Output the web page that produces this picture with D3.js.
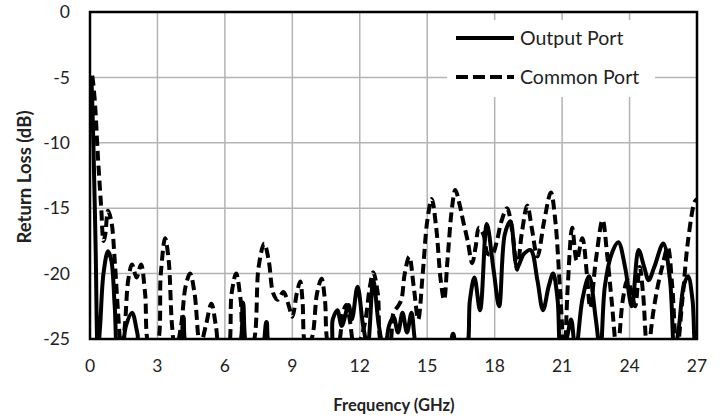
<!DOCTYPE html>
<html>
<head>
<meta charset="utf-8">
<script src="https://cdn.jsdelivr.net/npm/d3@7"></script>
<style>
  body { margin: 0; background: #fff; }
  text { font-family: Lato, "Open Sans", sans-serif; }
</style>
</head>
<body>
<svg id="chart"></svg>
<script>
// Return loss vs frequency
const xTicks = [0, 3, 6, 9, 12, 15, 18, 21, 24, 27];
const yTicks = [0, -5, -10, -15, -20, -25];

const outputFreq = [0.0, 0.05, 0.15, 0.25, 0.35, 0.45, 0.6, 0.8, 0.95, 1.1, 1.25, 1.45, 1.6, 1.87, 2.1, 2.3,
  3.9, 4.15, 4.4, 6.5, 6.8, 7.05, 7.6, 7.85, 8.1,
  10.6, 10.8, 11.0, 11.2, 11.5, 11.65, 11.9, 12.15, 12.35, 12.6, 12.85, 13.1, 13.3, 13.5, 13.7, 13.9, 14.1, 14.3, 14.5, 14.7,
  15.9, 16.15, 16.35, 16.7, 16.9, 17.1, 17.35, 17.65, 17.95, 18.2, 18.45, 18.7, 19.0, 19.3, 19.6, 19.9, 20.15, 20.4, 20.6, 20.8, 20.95,
  21.2, 21.4, 21.6, 21.9, 22.2, 22.5, 22.7, 22.9, 23.2, 23.5, 23.8, 24.1, 24.4, 24.65, 24.85, 25.1, 25.5, 25.8, 26.0, 26.2, 26.4, 26.6, 26.8, 26.95, 27.0];
const outputDb = [-8, -5, -10, -18, -26, -24, -20, -18.3, -19, -22.5, -26, -25.5, -24, -23, -24.5, -26,
  -26, -23.3, -26, -26, -22.2, -26, -26, -23.7, -26,
  -26, -23.5, -22.8, -24, -22.4, -23.5, -21, -24, -25.5, -20.5, -24, -26, -24, -23.3, -24.5, -23, -24.5, -23, -25.5, -26,
  -26, -24.6, -26, -26, -22, -20.3, -22.8, -16.2, -19.7, -22.5, -17, -16, -19.5, -18.5, -18.2, -20.5, -22.8, -21, -20, -22, -26,
  -25, -23.5, -26, -22, -20.2, -23.5, -26, -21, -18.5, -17.6, -19.5, -22.5, -18.2, -19.5, -20.5, -19.5, -17.7, -20.5, -26, -24, -21, -20.2, -22, -26, -26];

const commonFreq = [0.0, 0.08, 0.2, 0.35, 0.5, 0.6, 0.68, 0.8, 0.95, 1.1, 1.25, 1.4, 1.55, 1.7, 1.87, 2.07, 2.27, 2.45, 2.65, 2.95,
  3.15, 3.34, 3.5, 3.65, 3.8, 4.05, 4.25, 4.45, 4.65, 4.9, 5.15, 5.4, 5.6, 5.8, 6.1, 6.3, 6.5, 6.7, 6.9, 7.2, 7.5, 7.75, 7.95,
  8.15, 8.35, 8.6, 8.85, 9.0, 9.2, 9.35, 9.45, 9.6, 9.85, 10.1, 10.3, 10.45, 10.65, 11.0, 11.25, 11.4, 11.55, 11.8, 12.2, 12.45,
  12.6, 12.8, 13.0, 13.3, 13.5, 13.7, 13.85, 14.0, 14.2, 14.4, 14.6, 14.8, 15.0, 15.2, 15.4, 15.6, 15.75, 15.9, 16.1, 16.25,
  16.45, 16.6, 16.8, 17.0, 17.15, 17.3, 17.5, 17.7, 17.9, 18.1, 18.3, 18.55, 18.8, 19.0, 19.2, 19.45, 19.65, 19.9, 20.2, 20.5,
  20.7, 20.9, 21.1, 21.25, 21.45, 21.65, 21.9, 22.1, 22.25, 22.5, 22.8, 23.0, 23.2, 23.45, 23.7, 23.9, 24.1, 24.25, 24.45,
  24.6, 24.8, 25.05, 25.25, 25.45, 25.7, 25.9, 26.1, 26.35, 26.6, 26.9, 27.0];
const commonDb = [-7, -4.8, -6.5, -11, -15, -17.5, -17, -15.2, -16, -19, -23, -26, -24, -20.5, -19.3, -20.3, -19.3, -21.5, -25.5, -25.5,
  -20, -17.3, -19, -24, -26, -24, -21, -20, -21.5, -25.5, -24, -22.3, -24, -26, -26, -21.5, -20, -22, -25.5, -25.5, -19.5, -17.7, -19,
  -21.5, -22, -21.4, -22.5, -23.3, -21.5, -20.6, -22, -25.5, -25, -21.5, -20.4, -22, -25.5, -25.5, -23, -22.4, -23.5, -26, -24, -21,
  -19.9, -21.5, -25.5, -25.5, -23, -22.5, -22, -20, -18.7, -21, -23.5, -20, -16, -14.3, -16.5, -20.5, -22, -19, -15, -13.6,
  -14.8, -16, -17.5, -19.2, -18, -16.5, -17, -18.5, -18.5, -17.5, -16, -15, -17, -19.7, -17, -14.8, -16.5, -18.7, -16, -13.8,
  -16, -21, -26, -21, -16.5, -19, -17.3, -20, -22.6, -19, -15.9, -18.5, -22, -26, -22, -20.5, -21.5, -22.5, -19.5,
  -21.5, -26, -23, -21, -19.5, -18, -21, -26, -22, -17.5, -14.5, -14.3];

const seriesNames = ['Output Port', 'Common Port'];

const width = 726, height = 419;
const margin = { top: 12, right: 29, bottom: 80, left: 90 };

const svg = d3.select('#chart')
  .attr('width', width)
  .attr('height', height);

const x = d3.scaleLinear().domain([0, 27]).range([margin.left, width - margin.right]);
const y = d3.scaleLinear().domain([-25, 0]).range([height - margin.bottom, margin.top]);

// grid
svg.append('g')
  .selectAll('line.v')
  .data(xTicks.slice(1, -1))
  .enter().append('line')
  .attr('x1', d => x(d)).attr('x2', d => x(d))
  .attr('y1', y(0)).attr('y2', y(-25))
  .attr('stroke', '#b3b3b3').attr('stroke-width', 1.5);

svg.append('g')
  .selectAll('line.h')
  .data(yTicks.slice(1, -1))
  .enter().append('line')
  .attr('x1', x(0)).attr('x2', x(27))
  .attr('y1', d => y(d)).attr('y2', d => y(d))
  .attr('stroke', '#b3b3b3').attr('stroke-width', 1.5);

// legend background hides grid
svg.append('rect')
  .attr('x', 447).attr('y', 20)
  .attr('width', 208).attr('height', 77)
  .attr('fill', '#fff');

svg.append('defs').append('clipPath').attr('id', 'plot')
  .append('rect')
  .attr('x', x(0)).attr('y', y(0))
  .attr('width', x(27) - x(0)).attr('height', y(-25) - y(0));

const line = d3.line()
  .x(d => x(d[0]))
  .y(d => y(d[1]))
  .curve(d3.curveCatmullRom.alpha(0.5));

const plot = svg.append('g').attr('clip-path', 'url(#plot)');

plot.append('path')
  .datum(commonFreq.map((f, i) => [f, commonDb[i]]))
  .attr('d', line)
  .attr('fill', 'none')
  .attr('stroke', '#000')
  .attr('stroke-width', 4)
  .attr('stroke-dasharray', '10,5');

plot.append('path')
  .datum(outputFreq.map((f, i) => [f, outputDb[i]]))
  .attr('d', line)
  .attr('fill', 'none')
  .attr('stroke', '#000')
  .attr('stroke-width', 4);

// frame
svg.append('rect')
  .attr('x', x(0)).attr('y', y(0))
  .attr('width', x(27) - x(0)).attr('height', y(-25) - y(0))
  .attr('fill', 'none')
  .attr('stroke', '#000')
  .attr('stroke-width', 2.5);

// tick labels
svg.append('g')
  .selectAll('text')
  .data(yTicks)
  .enter().append('text')
  .attr('x', 70)
  .attr('y', d => y(d))
  .attr('dy', '0.35em')
  .attr('text-anchor', 'end')
  .attr('font-size', 17.5)
  .attr('fill', '#222')
  .text(d => d);

svg.append('g')
  .selectAll('text')
  .data(xTicks)
  .enter().append('text')
  .attr('x', d => x(d))
  .attr('y', 372)
  .attr('text-anchor', 'middle')
  .attr('font-size', 17.5)
  .attr('fill', '#222')
  .text(d => d);

// axis titles
svg.append('text')
  .attr('x', 394).attr('y', 411)
  .attr('text-anchor', 'middle')
  .attr('font-size', 16.5)
  .attr('font-weight', 'bold')
  .attr('fill', '#222')
  .text('Frequency (GHz)');

svg.append('text')
  .attr('transform', 'translate(31,177) rotate(-90)')
  .attr('text-anchor', 'middle')
  .attr('font-size', 18.5)
  .attr('font-weight', 'bold')
  .attr('fill', '#222')
  .text('Return Loss (dB)');

// legend
const legend = svg.append('g');
[38, 77].forEach((ly, i) => {
  legend.append('line')
    .attr('x1', 456).attr('x2', 514)
    .attr('y1', ly).attr('y2', ly)
    .attr('stroke', '#000')
    .attr('stroke-width', 4)
    .attr('stroke-dasharray', i === 1 ? '12,5' : null);
  legend.append('text')
    .attr('x', 520).attr('y', ly)
    .attr('dy', '0.35em')
    .attr('font-size', 19.5)
    .attr('fill', '#222')
    .text(seriesNames[i]);
});
</script>
</body>
</html>
